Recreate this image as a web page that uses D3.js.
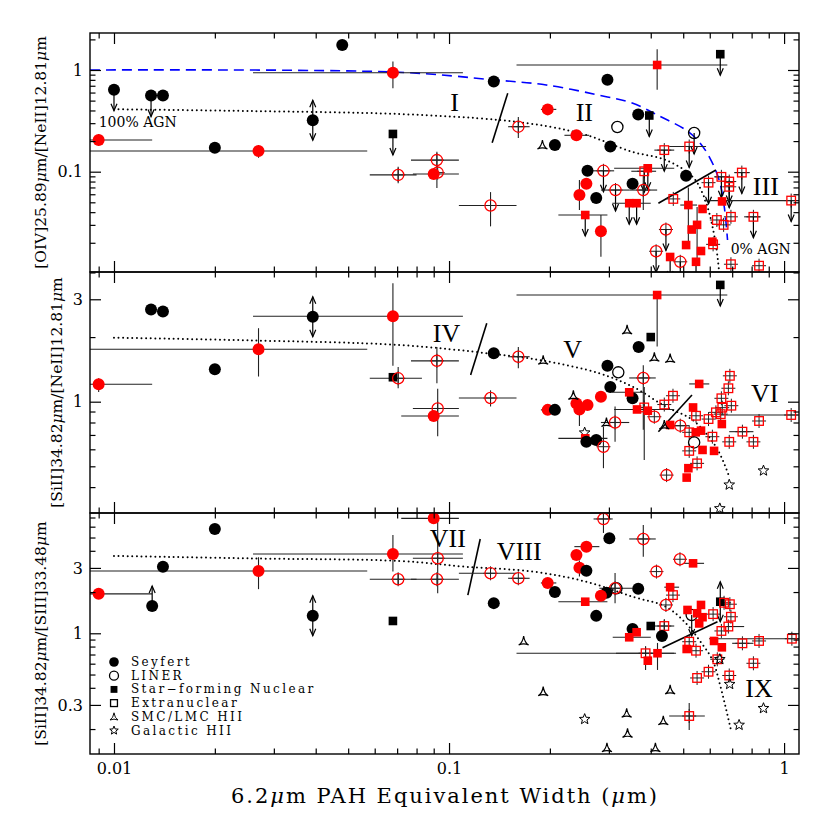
<!DOCTYPE html>
<html><head><meta charset="utf-8">
<script src="https://cdn.jsdelivr.net/npm/d3@7"></script>
<style>body{margin:0;background:#fff}svg{display:block}</style>
</head><body><svg id="c" width="830" height="830"></svg>
<script>
// ---------------- DATA ----------------
// record: [EW(6.2um), ratio, symbol, limit, xlo, xhi, ylo, yhi]
// symbol: S=Seyfert(filled circle) L=LINER(open circle) N=Star-forming nuclear(filled square)
//         E=Extranuclear(open square) M=SMC/LMC HII G=Galactic HII ; k=black r=red
const oivNeII = [
[0.0090,0.205,'Sr','',0.0080,0.0130,0.18,0.235],[0.0100,0.64,'Sk','d'],[0.0129,0.56,'Sk','d'],[0.0140,0.56,'Sk',''],
[0.0200,0.172,'Sk',''],[0.0270,0.160,'Sr','',0.0080,0.057,0.137,0.183],[0.0392,0.32,'Sk','b'],[0.0480,1.76,'Sk',''],
[0.068,0.94,'Sr','',0.026,0.11,0.66,1.21],[0.068,0.235,'Nk','d'],[0.0705,0.093,'Lr','',0.058,0.080,0.077,0.112],
[0.092,0.130,'Lr','',0.077,0.107,0.069,0.157],[0.090,0.095,'Sr','',0.078,0.107],[0.0925,0.098,'Lr',''],
[0.133,0.0465,'Lr','',0.107,0.159,0.029,0.063],[0.136,0.77,'Sk',''],[0.161,0.277,'Lr','',0.150,0.174,0.214,0.345],
[0.197,0.41,'Sr','',0.188,0.209],[0.190,0.183,'M',''],[0.207,0.183,'Sk',''],[0.240,0.228,'Sr','',0.221,0.262],
[0.418,1.12,'Nr','',0.159,0.677,0.64,1.6],[0.645,1.43,'Nk','d'],[0.297,0.80,'Sk',''],[0.367,0.366,'Sk',''],
[0.396,0.357,'Nk','d'],[0.318,0.275,'Lk',''],[0.303,0.177,'Sk',''],[0.539,0.24,'Lk','d'],
[0.439,0.163,'Er','d',0.41,0.47],[0.521,0.177,'Er','d',0.454,0.585],[0.259,0.102,'Sk',''],
[0.289,0.102,'Lr','d',0.268,0.311],[0.392,0.108,'Nr','d',0.311,0.47],[0.3825,0.101,'Er','d',0.35,0.415],
[0.51,0.091,'Sk',''],[0.257,0.076,'Sr',''],[0.245,0.059,'Sr','',0,0,0.042,0.083],[0.275,0.055,'Sk',''],
[0.314,0.066,'Lr','d',0.284,0.345],[0.353,0.076,'Sk',''],[0.38,0.066,'Lr','',0.345,0.418,0.042,0.093],
[0.345,0.049,'Nr','d',0.307,0.40],[0.363,0.049,'Nr','d'],[0.255,0.0375,'Nr','d',0.212,0.297],
[0.284,0.026,'Sr','',0,0,0.0146,0.0375],[0.467,0.054,'Er',''],[0.595,0.078,'Er','d'],
[0.65,0.089,'Er','d',0.62,0.69],[0.686,0.080,'Er','d'],[0.686,0.071,'Er','d'],[0.748,0.098,'Er','d',0.71,0.79],
[1.05,0.052,'Er','d',0.577,1.108],[0.81,0.036,'Er','d',0.76,0.85],[0.694,0.036,'Er',''],[0.66,0.030,'Er',''],
[0.63,0.0335,'Er',''],[0.614,0.0193,'Er',''],[0.653,0.051,'Nr',''],[0.518,0.047,'Nr','',0.49,0.55,0.02,0.07],
[0.571,0.043,'Nr',''],[0.55,0.030,'Nr','',0,0,0.012,0.045],[0.53,0.027,'Nr',''],[0.51,0.019,'Nr',''],
[0.565,0.0166,'Nr',''],[0.611,0.0205,'Nr',''],[0.457,0.0145,'Nr','d'],[0.546,0.013,'Nr','d'],
[0.444,0.027,'Lr','d'],[0.415,0.0165,'Lr','d'],[0.49,0.013,'Lr','d'],[0.694,0.0123,'Er',''],[0.842,0.0119,'Er','']
];
const siiNeII = [
[0.0090,1.205,'Sr','',0.008,0.013,1.11,1.285],[0.0129,2.69,'Sk',''],[0.0140,2.63,'Sk',''],[0.0200,1.415,'Sk',''],
[0.0270,1.755,'Sr','',0.008,0.057,1.31,2.2],[0.0392,2.49,'Sk','b'],[0.068,2.5,'Sr','',0.026,0.11,1.47,3.56],
[0.068,1.30,'Nk',''],[0.0705,1.285,'Lr','',0.058,0.083,1.155,1.45],[0.092,1.55,'Lr','',0.077,0.107,1.22,1.8],
[0.0925,0.93,'Lr','',0.078,0.107,0.69,1.15],[0.090,0.858,'Sr','',0.072,0.107],[0.136,1.68,'Sk',''],
[0.161,1.62,'Lr','',0.150,0.174,1.43,1.8],[0.191,1.56,'M',''],[0.133,1.04,'Lr','',0.107,0.159,0.95,1.13],
[0.197,0.916,'Sr','',0.188,0.209],[0.207,0.916,'Sk',''],[0.418,3.14,'Nr','',0.159,0.677,1.81,3.14],
[0.645,3.5,'Nk','d'],[0.34,2.16,'M',''],[0.40,2.0,'Nk',''],[0.368,1.80,'Sk',''],[0.41,1.61,'M',''],
[0.457,1.59,'M',''],[0.297,1.47,'Sk',''],[0.32,1.37,'Lk',''],[0.303,1.17,'Sk',''],
[0.38,1.29,'Lr','',0.345,0.414,0.74,1.48],[0.284,1.055,'Sr',''],[0.353,1.037,'Sk',''],
[0.345,1.106,'Nr','',0.307,0.383],[0.24,0.98,'Sr',''],[0.259,0.965,'Sr',''],[0.245,0.92,'Sr','',0,0,0.77,0.98],
[0.235,1.07,'M',''],[0.295,0.80,'M',''],[0.313,0.80,'Lr','',0.284,0.345,0.65,0.95],[0.254,0.717,'G',''],
[0.255,0.675,'Nr','',0.212,0.297],[0.257,0.65,'Sk',''],[0.275,0.663,'Sk',''],[0.289,0.617,'Lr','',0,0,0.49,0.765],
[0.364,0.92,'Nr','',0.311,0.47],[0.392,0.908,'Nr',''],[0.41,0.851,'Lr',''],[0.3825,0.94,'Er','',0,0,0.535,1.17],
[0.439,0.97,'Er',''],[0.466,1.066,'Er',''],[0.457,0.779,'Nr',''],[0.49,0.773,'Lr','',0.454,0.521],
[0.439,0.779,'M',''],[0.558,1.21,'Nr','',0.521,0.598],[0.535,0.94,'Nr',''],[0.546,0.86,'Er',''],
[0.595,0.83,'Er',''],[0.545,0.72,'Nr',''],[0.565,0.733,'Nr',''],[0.521,0.72,'Er',''],[0.539,0.646,'Lk',''],
[0.571,0.596,'Nr',''],[0.618,0.59,'Nr',''],[0.521,0.59,'Er',''],[0.611,0.687,'Er',''],[0.55,0.516,'Er',''],
[0.518,0.49,'Nr',''],[0.512,0.443,'Nr',''],[0.446,0.455,'Lr',''],[0.686,0.41,'G',''],[0.868,0.477,'G',''],
[0.643,0.318,'G',''],[0.689,1.32,'Er',''],[0.682,1.155,'Er',''],[0.65,1.037,'Er',''],[0.696,0.958,'Er',''],
[0.654,0.938,'Er',''],[0.626,0.892,'Er',''],[0.647,0.875,'Er',''],[0.652,0.787,'Nr',''],
[0.751,0.725,'Er','',0.686,0.81],[0.81,0.65,'Er',''],[0.842,0.813,'Er',''],[1.05,0.867,'Er','',0.647,1.108],
[0.686,0.65,'Er','']
];
const siiSiii = [
[0.0090,1.94,'Sr','',0.008,0.013],[0.0130,1.58,'Sk','u'],[0.0140,3.06,'Sk',''],[0.0200,5.77,'Sk',''],
[0.0270,2.85,'Sr','',0.008,0.057,2.10,3.59],[0.0392,1.345,'Sk','b'],[0.068,3.79,'Sr','',0.026,0.11,2.82,5.22],
[0.0705,2.48,'Lr','',0.058,0.080,2.25,2.75],[0.068,1.23,'Nk',''],[0.090,6.9,'Sr','',0.072,0.107],
[0.0925,3.53,'Lr','',0.078,0.11,1.96,7.1],[0.092,2.48,'Lr','',0.077,0.107],[0.133,2.74,'Lr','',0.107,0.159],
[0.161,2.52,'Lr','',0.150,0.174],[0.197,2.33,'Sr','',0.188,0.209],[0.207,2.0,'Sk',''],[0.136,1.66,'Sk',''],
[0.167,0.879,'M',''],[0.191,0.375,'M',''],[0.289,6.83,'Lr','',0.27,0.308,5.4,8.7],[0.301,4.94,'Sk',''],
[0.38,4.88,'Lr','',0.345,0.414,3.62,6.17],[0.257,4.29,'Sr','',0.2366,0.281],[0.24,3.73,'Sr',''],
[0.245,3.01,'Sr','',0,0,2.6,3.4],[0.257,2.86,'Sk',''],[0.489,3.47,'Lr',''],[0.535,3.24,'Nr','',0.503,0.577],
[0.416,2.82,'Lr',''],[0.255,1.70,'Nr','',0.212,0.297],[0.275,1.34,'Sk',''],[0.316,2.13,'Lk',''],
[0.313,2.13,'Lr','',0.281,0.353,1.66,2.75],[0.295,1.98,'Sk',''],[0.284,1.88,'Sr',''],[0.367,2.11,'Sk',''],
[0.457,2.17,'Nr','',0.439,0.486],[0.466,1.90,'Er',''],[0.444,1.61,'Lr',''],[0.40,1.13,'Nk',''],
[0.439,1.13,'Er','',0.41,0.47,1.02,1.25],[0.353,1.075,'Sk',''],[0.363,1.017,'Nr',''],
[0.345,0.935,'Nr','',0.308,0.40],[0.432,0.956,'Sk',''],[0.386,0.715,'Er','',0.315,0.476,0.54,0.8],
[0.419,0.715,'Nr','',0.159,0.47,0.54,0.85],[0.392,0.631,'Nr',''],[0.53,1.36,'Lk','d'],[0.515,1.48,'Nr',''],
[0.565,1.61,'Nr',''],[0.55,1.40,'Nr',''],[0.571,1.31,'Nr',''],[0.558,1.18,'Nr',''],[0.614,1.38,'Er',''],
[0.645,1.70,'Nk','b'],[0.662,1.67,'Er',''],[0.689,1.63,'Er',''],[0.694,1.32,'Er',''],
[0.682,1.12,'Er','',0.64,0.76],[0.65,1.04,'Er',''],[0.521,0.868,'Er',''],[0.546,0.746,'Er',''],
[0.512,0.768,'Nr',''],[0.618,0.879,'Nr',''],[0.652,0.79,'Nr',''],[0.632,0.646,'Er',''],[0.595,0.524,'Er',''],
[0.55,0.472,'Er',''],[0.686,0.492,'Er',''],[0.751,0.845,'Er','',0.70,0.81],[0.842,0.879,'Er',''],
[1.055,0.913,'Er','',0.597,1.108],[0.81,0.604,'Er',''],[0.521,0.249,'Er','',0.454,0.58,0.197,0.31],
[0.688,0.425,'G',''],[0.868,0.2835,'G',''],[0.734,0.214,'G',''],[0.254,0.236,'G',''],[0.643,0.646,'G',''],
[0.339,0.261,'M',''],[0.341,0.186,'M',''],[0.296,0.146,'M',''],[0.413,0.146,'M',''],[0.457,0.386,'M',''],
[0.436,0.230,'M','']
];
// mixing curves (100% AGN -> 0% AGN)
const blueOIV = [[0.00848,1.0],[0.0711,0.95],[0.136,0.80],[0.195,0.712],[0.297,0.543],[0.352,0.474],
  [0.424,0.353],[0.509,0.257],[0.558,0.196],[0.598,0.140],[0.640,0.083],[0.663,0.045],[0.678,0.0213]];
const dotOIV = [[0.01,0.411],[0.0254,0.395],[0.0711,0.369],[0.1414,0.322],[0.1993,0.277],[0.2565,0.2296],
  [0.352,0.157],[0.444,0.130],[0.533,0.0893],[0.571,0.0613],[0.598,0.0393],[0.626,0.019],[0.640,0.0103]];
const dotSiNe = [[0.01,1.987],[0.0254,1.93],[0.0712,1.837],[0.136,1.668],[0.191,1.553],[0.281,1.356],
  [0.353,1.175],[0.444,0.948],[0.533,0.822],[0.626,0.617],[0.686,0.447]];
const dotSiS = [[0.01,3.67],[0.0254,3.52],[0.0712,3.37],[0.112,3.06],[0.178,2.82],[0.2565,2.38],
  [0.353,1.85],[0.444,1.56],[0.51,1.18],[0.558,0.894],[0.611,0.639],[0.646,0.408],[0.694,0.197]];
const dividers = [
  [[0.1345,0.193],[0.1497,0.59]], [[0.4216,0.0489],[0.626,0.104]],
  [[0.1296,2.32],[0.116,1.33]], [[0.4216,0.725],[0.531,1.075]],
  [[0.1239,4.88],[0.1138,1.90]], [[0.4337,0.785],[0.6326,1.215]]
];
const dividerPanel = [0,0,1,1,2,2];
const regionNames = ['I','II','III','IV','V','VI','VII','VIII','IX'];
const regionX = [0.1039,0.2534,0.882,0.0983,0.234,0.876,0.0992,0.162,0.842];
const regionY = [0.484,0.378,0.0712,2.07,1.754,1.094,4.94,3.94,0.397];
const regionPanel = [0,0,0,1,1,1,2,2,2];
const xMajor = [0.01,0.1,1];
const xMinor = [0.009,0.02,0.03,0.04,0.05,0.06,0.07,0.08,0.09,0.2,0.3,0.4,0.5,0.6,0.7,0.8,0.9];
const yMajor = [[0.1,1],[1,3],[0.3,1,3]];
const yMinor = [
  [0.02,0.03,0.04,0.05,0.06,0.07,0.08,0.09,0.2,0.3,0.4,0.5,0.6,0.7,0.8,0.9,2],
  [0.4,0.5,0.6,0.7,0.8,0.9,2,4],
  [0.2,0.4,0.5,0.6,0.7,0.8,0.9,2,4,5,6,7]
];
const yLabelParts = [
  ['[OIV]25.89','μ','m/[NeII]12.81','μ','m'],
  ['[SiII]34.82','μ','m/[NeII]12.81','μ','m'],
  ['[SiII]34.82','μ','m/[SIII]33.48','μ','m']
];
const legendSyms = ['Sk','Lk','Nk','Ek','M','G'];
const legendNames = ['Seyfert','LINER','Star\u2212forming Nuclear','Extranuclear','SMC/LMC HII','Galactic HII'];

// ---------------- LAYOUT ----------------
const svg = d3.select('#c');
const L = 90, R = 799;
const tops = [33,272,513], bots = [272,513,754];
const yDom = [[0.01032,2.311],[0.303,4.02],[0.1315,7.55]];
const x = d3.scaleLog().domain([0.00848,1.108]).range([L,R]);
const ys = yDom.map((d,i)=>d3.scaleLog().domain(d).range([bots[i],tops[i]]));
const FONT = "'DejaVu Serif', serif";
const RED = '#ff0000';

const defs = svg.append('defs');
tops.forEach((t,i)=>{
  defs.append('clipPath').attr('id','clip'+i).append('rect')
    .attr('x',L).attr('y',t).attr('width',R-L).attr('height',bots[i]-t);
});

function symbol(g, sym, cx, cy, s){
  const t = sym[0], c = sym[1]==='r' ? RED : '#000';
  if(t==='S') g.append('circle').attr('cx',cx).attr('cy',cy).attr('r',6*s).attr('fill',c);
  else if(t==='L') g.append('circle').attr('cx',cx).attr('cy',cy).attr('r',5.6*s).attr('fill','none').attr('stroke',c).attr('stroke-width',1.3);
  else if(t==='N') g.append('rect').attr('x',cx-4.3*s).attr('y',cy-4.3*s).attr('width',8.6*s).attr('height',8.6*s).attr('fill',c);
  else if(t==='E') g.append('rect').attr('x',cx-4.3*s).attr('y',cy-4.3*s).attr('width',8.6*s).attr('height',8.6*s).attr('fill','none').attr('stroke',c).attr('stroke-width',1.3);
  else if(t==='M') g.append('path').attr('transform',`translate(${cx},${cy}) scale(${s})`)
      .attr('d','M0,-5 Q0.9,1.6 5,4 Q0,1.8 -5,4 Q-0.9,1.6 0,-5Z').attr('fill','none').attr('stroke','#000').attr('stroke-width',1.2);
  else if(t==='G'){
    const pts=[]; for(let k=0;k<10;k++){const r=(k%2?2.4:5.6)*s, a=-Math.PI/2+k*Math.PI/5; pts.push([cx+r*Math.cos(a),cy+r*Math.sin(a)]);}
    g.append('path').attr('d','M'+pts.map(p=>p.join(',')).join('L')+'Z').attr('fill','none').attr('stroke','#000').attr('stroke-width',1);
  }
}
function arrow(g,cx,cy,dir,len){
  const e = cy+dir*len;
  g.append('line').attr('x1',cx).attr('x2',cx).attr('y1',cy).attr('y2',e).attr('stroke','#000').attr('stroke-width',1.2);
  g.append('path').attr('d',`M${cx-3},${e-dir*7}L${cx},${e}L${cx+3},${e-dir*7}`).attr('fill','none').attr('stroke','#000').attr('stroke-width',1.2);
}

const panels = [oivNeII, siiNeII, siiSiii];
const curves = [[dotOIV],[dotSiNe],[dotSiS]];
const line = (ysc)=>d3.line().x(d=>x(d[0])).y(d=>ysc(d[1])).curve(d3.curveCatmullRom);

panels.forEach((data,i)=>{
  const y = ys[i];
  const g = svg.append('g').attr('clip-path',`url(#clip${i})`);
  if(i===0) g.append('path').attr('d',line(y)(blueOIV)).attr('fill','none').attr('stroke','#0000ff')
     .attr('stroke-width',1.6).attr('stroke-dasharray','10,6');
  curves[i].forEach(cv=>{
    g.append('path').attr('d',line(y)(cv)).attr('fill','none').attr('stroke','#000')
     .attr('stroke-width',2).attr('stroke-linecap','round').attr('stroke-dasharray','0,4.6');
  });
  dividers.forEach((dv,k)=>{ if(dividerPanel[k]!==i) return;
    g.append('line').attr('x1',x(dv[0][0])).attr('y1',y(dv[0][1])).attr('x2',x(dv[1][0])).attr('y2',y(dv[1][1]))
      .attr('stroke','#000').attr('stroke-width',1.6);
  });
  data.forEach(d=>{
    const cx=x(d[0]), cy=y(d[1]);
    const [xlo,xhi,ylo,yhi]=[d[4]||0,d[5]||0,d[6]||0,d[7]||0];
    if(xlo>0) g.append('line').attr('x1',x(xlo)).attr('x2',x(xhi)).attr('y1',cy).attr('y2',cy).attr('stroke','#222').attr('stroke-width',1.1);
    if(ylo>0) g.append('line').attr('x1',cx).attr('x2',cx).attr('y1',y(ylo)).attr('y2',y(yhi)).attr('stroke','#222').attr('stroke-width',1.1);
    if(d[2]==='Lr'||d[2]==='Er'){
      g.append('path').attr('d',`M${cx-7},${cy}H${cx+7}M${cx},${cy-7}V${cy+7}`).attr('stroke','#222').attr('stroke-width',1);
    }
    if(d[3]==='d') arrow(g,cx,cy,1,21);
    if(d[3]==='u') arrow(g,cx,cy,-1,20);
    if(d[3]==='b'){arrow(g,cx,cy,1,20);arrow(g,cx,cy,-1,20);}
  });
  data.forEach(d=>symbol(g,d[2],x(d[0]),y(d[1]),1));
  regionNames.forEach((nm,k)=>{ if(regionPanel[k]!==i) return;
    svg.append('text').attr('x',x(regionX[k])).attr('y',y(regionY[k])).attr('text-anchor','middle')
      .attr('dominant-baseline','central').attr('font-family',"'Liberation Serif', serif").attr('font-size',26).text(nm);
  });
  svg.append('rect').attr('x',L).attr('y',tops[i]).attr('width',R-L).attr('height',bots[i]-tops[i])
     .attr('fill','none').attr('stroke','#000').attr('stroke-width',1.4);
  const mk = (ax,tr)=>{ const a=svg.append('g').attr('transform',tr).call(ax); a.select('.domain').remove();
     a.selectAll('line').attr('stroke','#000').attr('stroke-width',1.2);
     a.selectAll('text').attr('font-family',FONT).attr('font-size',16).attr('fill','#000'); return a; };
  mk(d3.axisBottom(x).tickValues(xMajor).tickSize(-11).tickPadding(9).tickFormat(i===2?(v=>String(v)):()=>''),`translate(0,${bots[i]})`);
  mk(d3.axisBottom(x).tickValues(xMinor).tickSize(-5.5).tickFormat(()=>''),`translate(0,${bots[i]})`);
  mk(d3.axisTop(x).tickValues(xMajor).tickSize(-11).tickFormat(()=>''),`translate(0,${tops[i]})`);
  mk(d3.axisTop(x).tickValues(xMinor).tickSize(-5.5).tickFormat(()=>''),`translate(0,${tops[i]})`);
  mk(d3.axisLeft(y).tickValues(yMajor[i]).tickSize(-11).tickPadding(7).tickFormat(v=>String(v)),`translate(${L},0)`);
  mk(d3.axisLeft(y).tickValues(yMinor[i]).tickSize(-5.5).tickFormat(()=>''),`translate(${L},0)`);
  mk(d3.axisRight(y).tickValues(yMajor[i]).tickSize(-11).tickFormat(()=>''),`translate(${R},0)`);
  mk(d3.axisRight(y).tickValues(yMinor[i]).tickSize(-5.5).tickFormat(()=>''),`translate(${R},0)`);
  const lx = i===1 ? 57 : 41, ly = (tops[i]+bots[i])/2;
  const t = svg.append('text').attr('transform',`translate(${lx},${ly}) rotate(-90)`).attr('text-anchor','middle')
    .attr('dominant-baseline','central').attr('font-family',FONT).attr('font-size',15.5);
  yLabelParts[i].forEach(p=>t.append('tspan').attr('font-style',p==='μ'?'italic':'normal').text(p));
});

svg.append('text').attr('x',x(0.01177)).attr('y',ys[0](0.31)).attr('text-anchor','middle').attr('dominant-baseline','central')
  .attr('font-family',FONT).attr('font-size',14).text('100% AGN');
svg.append('text').attr('x',x(0.852)).attr('y',ys[0](0.0174)).attr('text-anchor','middle').attr('dominant-baseline','central')
  .attr('font-family',FONT).attr('font-size',14).text('0% AGN');

// legend
legendSyms.forEach((s,k)=>{
  const yy = 662 + k*13.7;
  symbol(svg, s, 114, yy, 0.8);
  svg.append('text').attr('x',131).attr('y',yy).attr('dominant-baseline','central')
    .attr('font-family',FONT).attr('font-size',12).attr('letter-spacing',2.4).text(legendNames[k]);
});

// x title
const xt = svg.append('text').attr('x',444).attr('y',803).attr('text-anchor','middle')
  .attr('font-family',FONT).attr('font-size',21).attr('textLength',426).attr('lengthAdjust','spacing');
[['6.2',0],['μ',1],['m PAH Equivalent Width (',0],['μ',1],['m)',0]].forEach(p=>
  xt.append('tspan').attr('font-style',p[1]?'italic':'normal').text(p[0]));
</script></body></html>
